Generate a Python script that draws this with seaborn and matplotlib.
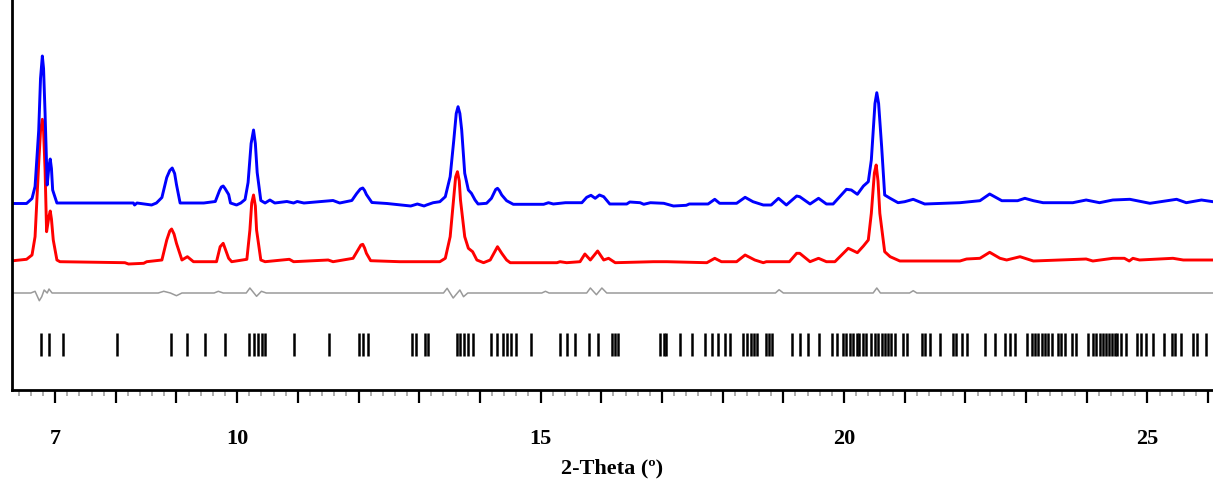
import numpy as np
import pandas as pd
import seaborn as sns
import matplotlib.pyplot as plt
from matplotlib.ticker import FixedLocator, MultipleLocator

sns.set_style('white')
plt.rcParams['font.family'] = ['Liberation Serif', 'DejaVu Serif']

# observed pattern (blue): 2-theta, intensity above its baseline
obs_tt = [6.31, 6.53, 6.62, 6.67, 6.73, 6.76, 6.79, 6.81, 6.835, 6.87, 6.90, 6.92, 6.94, 6.96, 7.03,
          8.29, 8.31, 8.35, 8.59, 8.67, 8.76, 8.84, 8.89, 8.93, 8.97, 9.0, 9.06, 9.45,
          9.64, 9.71, 9.74, 9.77, 9.80, 9.86, 9.89, 9.99, 10.06, 10.13, 10.18, 10.23, 10.27, 10.30, 10.33, 10.39,
          10.46, 10.54, 10.62, 10.82, 10.93, 10.99, 11.1, 11.58, 11.69, 11.89, 11.97,
          12.03, 12.07, 12.10, 12.13, 12.22, 12.47,
          12.70, 12.86, 12.97, 13.08, 13.12, 13.23, 13.34, 13.43, 13.51, 13.57, 13.61, 13.64,
          13.67, 13.70, 13.75, 13.81, 13.86, 13.92, 13.97, 14.11, 14.19, 14.26, 14.29, 14.32, 14.36, 14.44,
          14.55, 15.05, 15.13, 15.21, 15.41, 15.68, 15.76, 15.83, 15.90, 15.97, 16.04,
          16.14, 16.42, 16.47, 16.64, 16.70, 16.81, 17.03, 17.19, 17.40, 17.45, 17.76,
          17.87, 17.95, 18.23, 18.37, 18.50, 18.67, 18.80, 18.92, 19.05, 19.22,
          19.27, 19.44, 19.58, 19.71, 19.82, 19.93, 20.04, 20.12, 20.22, 20.32, 20.40,
          20.45, 20.51, 20.54, 20.57, 20.62, 20.67, 20.76, 20.89, 21.0, 21.14, 21.33, 21.91, 22.24,
          22.40, 22.60, 22.86, 22.98, 23.12, 23.28, 23.77, 23.99, 24.21, 24.43, 24.71,
          25.04, 25.48, 25.64, 25.89, 26.08]
obs_int = [0, 0, 5, 17, 73, 125, 147.5, 135, 90, 18.5, 38, 44.5, 35, 13.5, 0.5,
           0.5, -1.5, 0.5, -1.5, 0.5, 6, 26, 33, 35.5, 30, 19, 0.5, 0.5,
           2, 13, 16.5, 17.5, 15, 9, 0.5, -1.5, 0.5, 4, 21, 60, 73.5, 60, 31, 3,
           0.5, 3.5, 0.5, 2, 0.5, 2, 0.5, 3, 0.5, 3, 10,
           14.5, 15.5, 13, 9, 1, 0,
           -1.5, -2.5, -0.5, -2.5, -1.5, 0.8, 1.8, 6.8, 26.8, 63.5, 90, 96.8,
           90, 73.5, 30.2, 13.5, 10.2, 3.5, -0.5, 0.2, 5.2, 14, 15.2, 13, 8.5, 2.8,
           -0.8, -0.8, 0.8, -0.5, 0.8, 0.8, 6.2, 8.2, 5.2, 8.5, 6.8,
           -0.5, -0.5, 1.5, 0.8, -0.8, 0.8, 0.2, -2.5, -1.8, -0.5, -0.5,
           4.2, 0.2, 0.2, 6.2, 1.8, -1.5, -1.5, 5.2, -1.5, 7.5,
           6.8, -0.5, 5.2, -0.5, -0.5, 6.8, 14.2, 13.5, 9.2, 17.5, 21.8,
           43.5, 100, 110.8, 100, 56.8, 8.5, 5.2, 0.8, 1.8, 4.2, -0.5, 0.8, 2.8,
           9.5, 2.8, 2.8, 5.2, 2.8, 0.8, 0.8, 3.5, 0.8, 3.5, 4.2,
           0.2, 4.2, 0.8, 3.5, 1.8]

# calculated pattern (red)
calc_tt = [6.31, 6.53, 6.62, 6.67, 6.73, 6.76, 6.79, 6.81, 6.835, 6.86, 6.90, 6.92, 6.94, 6.97, 7.03,
           7.08, 8.15, 8.21, 8.46, 8.51, 8.76, 8.84, 8.89, 8.92, 8.96, 9.0, 9.09, 9.18,
           9.28, 9.66, 9.72, 9.77, 9.86, 9.91, 10.16, 10.21, 10.24, 10.27, 10.30, 10.32, 10.39,
           10.46, 10.86, 10.93, 11.50, 11.58, 11.91, 11.99, 12.04, 12.07, 12.10, 12.13, 12.20,
           12.68, 13.34, 13.43, 13.51, 13.57, 13.60, 13.63, 13.66, 13.68, 13.75, 13.81, 13.88,
           13.95, 14.06, 14.17, 14.23, 14.29, 14.36, 14.44, 14.50, 15.27, 15.32,
           15.43, 15.65, 15.73, 15.82, 15.94, 16.04, 16.12, 16.23, 16.86, 17.08,
           17.74, 17.87, 17.98, 18.23, 18.37, 18.53, 18.67, 18.72, 19.10, 19.22,
           19.27, 19.44, 19.58, 19.71, 19.85, 19.96, 20.07, 20.22, 20.32, 20.40,
           20.45, 20.50, 20.53, 20.56, 20.59, 20.67, 20.76, 20.92, 21.91, 22.02, 22.24, 22.40,
           22.57, 22.68, 22.90, 23.12, 23.99, 24.10, 24.43, 24.62, 24.70, 24.76,
           24.87, 25.42, 25.59, 26.08]
calc_int = [0.3, 1.7, 6, 24.3, 97.7, 130, 141.7, 130, 91, 29.3, 45, 50, 42, 21, 1,
            -0.7, -1.7, -3, -2.3, -0.7, 1, 21, 30, 32, 27, 17.7, 1, 4.3,
            -0.7, -0.7, 14.3, 17.7, 2.7, -0.7, 1.7, 31, 58, 66, 55, 31, 1,
            -0.7, 1.7, -0.7, 1, -0.7, 2.7, 11, 16, 16.7, 13, 7.7, 0.3,
            -0.7, -0.7, 2.7, 24.3, 64.3, 84, 89.3, 80, 61, 24.3, 12.7, 9.3,
            1, -1.7, 1, 7.7, 14.3, 7.7, 1, -1.7, -1.7, -0.7,
            -1.7, -0.7, 7, 1, 10, 1, 2.7, -1.7, -0.7, -0.7,
            -1.7, 2.7, -0.7, -0.7, 6, 1, -1.7, -0.7, -0.7, 7.7,
            7.7, -0.7, 2.7, -0.7, -0.7, 6, 12.7, 8.3, 15, 21,
            47.7, 88, 96, 80, 47.7, 9.3, 4.3, 0, 0, 2, 2.7, 8.7,
            2.7, 1, 4.3, 0, 2, 0, 2.7, 2.7, 0, 2.7,
            1, 2.7, 1, 1]

# difference curve (grey)
diff_tt = [6.31, 6.60, 6.67, 6.74, 6.78, 6.82, 6.87, 6.90, 6.95, 8.70, 8.79,
           8.90, 9.0, 9.09, 9.62, 9.69, 9.77, 10.15, 10.21, 10.32, 10.40, 10.48,
           13.40, 13.46, 13.56, 13.67, 13.73, 13.80, 15.02, 15.08, 15.14, 15.76, 15.82,
           15.92, 16.01, 16.09, 18.87, 18.93, 19.0, 20.48, 20.54, 20.60, 21.08,
           21.14, 21.20, 26.08]
diff_int = [0, 0, 1.7, -7.7, -3.7, 3, 0, 4, 0, 0, 1.7,
            0, -2.7, 0, 0, 1.7, 0, 0, 5, -3.3, 1.7, 0,
            0, 4.7, -5, 3, -3.7, 0, 0, 1.7, 0, 0, 5,
            -1.7, 5, 0, 0, 3.3, 0, 0, 5, 0, 0,
            2.3, 0, 0]

# Bragg reflection positions
hkl_tt = [6.764, 6.906, 7.137, 8.016, 8.911, 9.17, 9.471, 9.796, 10.2, 10.27, 10.35,
          10.405, 10.46, 10.93, 11.52, 12.01, 12.08, 12.15, 12.88, 12.95, 13.10, 13.14,
          13.62, 13.67, 13.74, 13.81, 13.89, 14.19, 14.28,
          14.385, 14.45, 14.52, 14.59, 14.85, 15.32, 15.43, 15.57, 15.79, 15.95, 16.17,
          16.23, 16.28, 16.96, 17.03, 17.07, 17.30, 17.49, 17.71, 17.82, 17.93, 18.04, 18.12,
          18.33, 18.40, 18.46, 18.52, 18.56, 18.72, 18.77, 18.82, 19.14, 19.27, 19.41,
          19.59, 19.81, 19.88, 19.99, 20.04, 20.10, 20.15, 20.21, 20.25, 20.32, 20.37,
          20.45, 20.51, 20.56, 20.62, 20.67, 20.73, 20.78, 20.84, 20.98, 21.03, 21.28,
          21.33, 21.41, 21.58, 21.80, 21.84, 21.95, 22.02,
          22.32, 22.49, 22.65, 22.73, 22.82, 23.01, 23.09, 23.14, 23.20, 23.26, 23.31,
          23.36, 23.42, 23.53, 23.58, 23.64, 23.75, 23.83, 24.02, 24.10, 24.16, 24.22,
          24.27, 24.31, 24.37, 24.42, 24.46, 24.50, 24.57, 24.64, 24.82, 24.90, 24.98,
          25.09, 25.28, 25.40, 25.45, 25.56, 25.75, 25.81, 25.97]

major_ticks = list(range(7, 27))
labelled = [7, 10, 15, 20, 25]

# vertical stacking of the traces
off_obs, off_calc, off_diff = 186.5, 129, 97
hkl_lo, hkl_hi = 34, 57

fig = plt.figure(figsize=(12.13, 4.79), dpi=100)
ax = fig.add_axes([12 / 1213, 89 / 479, 1 - 12 / 1213, 390 / 479])

df_obs = pd.DataFrame({'tt': obs_tt, 'y': np.array(obs_int) + off_obs})
df_calc = pd.DataFrame({'tt': calc_tt, 'y': np.array(calc_int) + off_calc})
df_diff = pd.DataFrame({'tt': diff_tt, 'y': np.array(diff_int) + off_diff})

sns.lineplot(data=df_diff, x='tt', y='y', color='#9a9a9a', lw=1.1, estimator=None, ax=ax)
sns.lineplot(data=df_calc, x='tt', y='y', color='#ff0000', lw=2.1, estimator=None, ax=ax)
sns.lineplot(data=df_obs, x='tt', y='y', color='#0000ff', lw=2.1, estimator=None, ax=ax)
ax.vlines(hkl_tt, hkl_lo, hkl_hi, color='black', lw=1.8)

ax.set_xlim(6.29, 26.08)
ax.set_ylim(0, 390)
ax.set_yticks([])
ax.set_ylabel('')
ax.xaxis.set_major_locator(FixedLocator(major_ticks))
ax.set_xticklabels([str(t) if t in labelled else '' for t in major_ticks])
ax.xaxis.set_minor_locator(MultipleLocator(0.2))
ax.tick_params(axis='x', which='both', bottom=True)
ax.tick_params(axis='x', which='major', direction='out', length=9, width=1.6,
               color='black', labelcolor='black', labelsize=16, pad=19)
ax.tick_params(axis='x', which='minor', direction='out', length=4, width=1.2,
               color='#a0a0a0')
for lab in ax.get_xticklabels():
    lab.set_fontweight('bold')
ax.set_xlabel('2-Theta (º)', fontsize=16, fontweight='bold', color='black', labelpad=7)

for s in ['top', 'right']:
    ax.spines[s].set_visible(False)
ax.spines['left'].set_linewidth(2)
ax.spines['bottom'].set_linewidth(2)
ax.spines['left'].set_color('black')
ax.spines['bottom'].set_color('black')

plt.savefig('out.png', dpi=100)
